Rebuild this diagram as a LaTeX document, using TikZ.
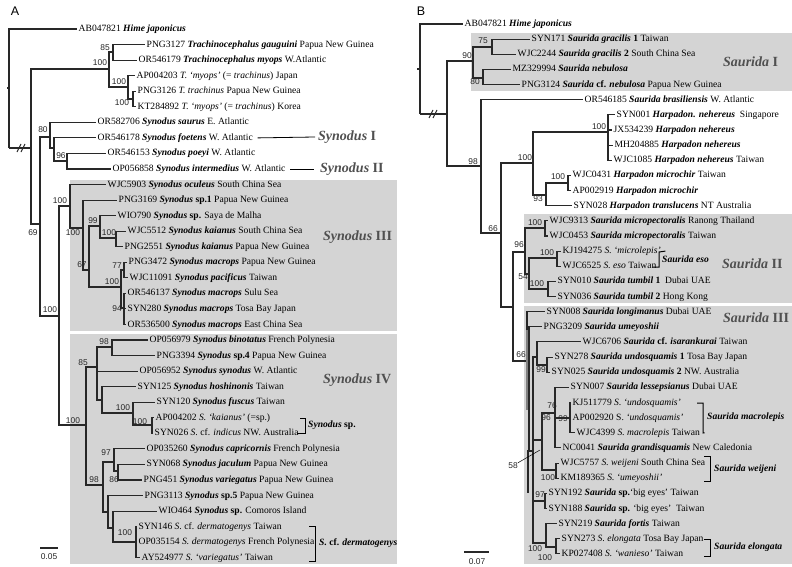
\documentclass[tikz,border=0pt]{standalone}
\usepackage{fontspec}
\setmainfont{Liberation Serif}
\setsansfont{Liberation Sans}
\definecolor{boxgray}{RGB}{212,212,212}
\definecolor{linegray}{RGB}{40,40,40}
\definecolor{cladegray}{RGB}{80,80,80}
\newcommand{\bi}[1]{\textbf{\textit{#1}}}
\tikzset{
  br/.style={draw=linegray, line width=1.1pt},
  thick bar/.style={draw=linegray, line width=2.6pt},
  lf/.style={anchor=west, inner sep=1.5pt, text height=7pt, text depth=2pt, font=\fontsize{9.6}{11}\selectfont},
  bs/.style={inner sep=0pt, font=\sffamily\fontsize{8.4}{10}\selectfont, text=black!85},
  cl/.style={anchor=west, inner sep=0pt, text=cladegray, font=\fontsize{14}{16}\selectfont},
  sp/.style={anchor=west, inner sep=0pt, font=\fontsize{9.6}{11}\selectfont},
  cladebox/.style={fill=boxgray, draw=none},
  brk/.style={draw=black, line width=1pt},
}

\begin{document}
\begin{tikzpicture}[x=1pt, y=-1pt]
\useasboundingbox (0,0) rectangle (792,567);

% shaded clades
\fill[cladebox] (70,180) rectangle (397,331);
\fill[cladebox] (70,334) rectangle (397,564);
\fill[cladebox] (471,33) rectangle (792,91);
\fill[cladebox] (524,214) rectangle (792,303);
\fill[cladebox] (524,306) rectangle (792,564);

\node[font=\sffamily\fontsize{12.5}{14}\selectfont] (pA) at (15,11) {A};
\node[font=\sffamily\fontsize{12.5}{14}\selectfont] (pB) at (421,11) {B};

%%%%%%%%%% panel A : Synodus
\node[lf] (a1) at (77,29.0) {AB047821 \bi{Hime japonicus}};
\node[lf] (a2) at (145,44.6) {PNG3127 \bi{Trachinocephalus gauguini} Papua New Guinea};
\node[lf] (a3) at (137,60.1) {OR546179 \bi{Trachinocephalus myops} W.Atlantic};
\node[lf] (a4) at (135,75.7) {AP004203 \textit{T. `myops'} (= \textit{trachinus}) Japan};
\node[lf] (a5) at (136,91.2) {PNG3126 \textit{T. trachinus} Papua New Guinea};
\node[lf] (a6) at (136,106.8) {KT284892 \textit{T. `myops'} (= \textit{trachinus}) Korea};
\node[lf] (a7) at (96,122.3) {OR582706 \bi{Synodus saurus} E. Atlantic};
\node[lf] (a8) at (96,137.9) {OR546178 \bi{Synodus foetens} W. Atlantic};
\node[lf] (a9) at (106,153.4) {OR546153 \bi{Synodus poeyi} W. Atlantic};
\node[lf] (a10) at (111,169.0) {OP056858 \bi{Synodus intermedius} W. Atlantic};
\node[lf] (a11) at (106,184.5) {WJC5903 \bi{Synodus oculeus} South China Sea};
\node[lf] (a12) at (117,200.1) {PNG3169 \bi{Synodus} \textbf{sp.1} Papua New Guinea};
\node[lf] (a13) at (116,215.6) {WIO790 \bi{Synodus} \textbf{sp.} Saya de Malha};
\node[lf] (a14) at (126,231.2) {WJC5512 \bi{Synodus kaianus} South China Sea};
\node[lf] (a15) at (123,246.7) {PNG2551 \bi{Synodus kaianus} Papua New Guinea};
\node[lf] (a16) at (127,262.3) {PNG3472 \bi{Synodus macrops} Papua New Guinea};
\node[lf] (a17) at (128,277.8) {WJC11091 \bi{Synodus pacificus} Taiwan};
\node[lf] (a18) at (126,293.4) {OR546137 \bi{Synodus macrops} Sulu Sea};
\node[lf] (a19) at (126,308.9) {SYN280 \bi{Synodus macrops} Tosa Bay Japan};
\node[lf] (a20) at (126,324.5) {OR536500 \bi{Synodus macrops} East China Sea};
\node[lf] (a21) at (148,340.0) {OP056979 \bi{Synodus binotatus} French Polynesia};
\node[lf] (a22) at (155,355.6) {PNG3394 \bi{Synodus} \textbf{sp.4} Papua New Guinea};
\node[lf] (a23) at (138,371.1) {OP056952 \bi{Synodus synodus} W. Atlantic};
\node[lf] (a24) at (136,386.7) {SYN125 \bi{Synodus hoshinonis} Taiwan};
\node[lf] (a25) at (155,402.2) {SYN120 \bi{Synodus fuscus} Taiwan};
\node[lf] (a26) at (154,417.8) {AP004202 \textit{S. `kaianus'} (=sp.)};
\node[lf] (a27) at (153,433.3) {SYN026 \textit{S.} cf. \textit{indicus} NW. Australia};
\node[lf] (a28) at (145,448.9) {OP035260 \bi{Synodus capricornis} French Polynesia};
\node[lf] (a29) at (145,464.4) {SYN068 \bi{Synodus jaculum} Papua New Guinea};
\node[lf] (a30) at (142,480.0) {PNG451 \bi{Synodus variegatus} Papua New Guinea};
\node[lf] (a31) at (143,495.5) {PNG3113 \bi{Synodus} \textbf{sp.5} Papua New Guinea};
\node[lf] (a32) at (157,511.1) {WIO464 \bi{Synodus} \textbf{sp.} Comoros Island};
\node[lf] (a33) at (137,526.6) {SYN146 \textit{S.} cf. \textit{dermatogenys} Taiwan};
\node[lf] (a34) at (137,542.2) {OP035154 \textit{S. dermatogenys} French Polynesia};
\node[lf] (a35) at (140,557.7) {AY524977 \textit{S. `variegatus'} Taiwan};

% internal nodes A
\coordinate (rA) at (9,148);
\coordinate (nA1) at (31,148);
\coordinate (nTr) at (109,69);
\coordinate (n85) at (113,52);
\coordinate (n100a) at (128,87);
\coordinate (n100b) at (133,99);
\coordinate (nSy) at (40,224);
\coordinate (n80) at (50,137);
\coordinate (nS1) at (54,148);
\coordinate (n96) at (67,161);
\coordinate (n100c) at (59,316);
\coordinate (nIII) at (70,206);
\coordinate (nB) at (83,228);
\coordinate (n67) at (89,270);
\coordinate (n99) at (100,226);
\coordinate (n100d) at (116,238);
\coordinate (nE) at (121,287);
\coordinate (nG) at (124,270);
\coordinate (nH) at (124,308);
\coordinate (nIV) at (86,425);
\coordinate (n85b) at (97,367);
\coordinate (n98a) at (112,347);
\coordinate (nZ) at (102,400);
\coordinate (n100g) at (133,413);
\coordinate (n100h) at (152,425);
\coordinate (n98b) at (103,485);
\coordinate (n97) at (114,462);
\coordinate (n86) at (118,471);
\coordinate (nX) at (108,512);
\coordinate (nY) at (113,528);
\coordinate (n100i) at (136,542);

\draw[br] (7,88) -- (9,88);
\draw[br] (rA) |- (a1.west);
\draw[br] (rA) -- (nA1);
\draw[br] (nA1) |- (nTr);
\draw[br] (nA1) |- (nSy);
\draw[br] (nTr) |- (n85);
\draw[br] (nTr) |- (n100a);
\draw[br] (n85) |- (a2.west);
\draw[br] (n85) |- (a3.west);
\draw[br] (n100a) |- (a4.west);
\draw[br] (n100a) |- (n100b);
\draw[br] (n100b) |- (a5.west);
\draw[br] (n100b) |- (a6.west);
\draw[br] (nSy) |- (n80);
\draw[br] (nSy) |- (n100c);
\draw[br] (n80) |- (a7.west);
\draw[br] (n80) |- (nS1);
\draw[br] (nS1) |- (a8.west);
\draw[br] (nS1) |- (n96);
\draw[br] (n96) |- (a9.west);
\draw[br] (n96) |- (a10.west);
\draw[br] (n100c) |- (nIII);
\draw[br] (n100c) |- (nIV);
\draw[br] (nIII) |- (a11.west);
\draw[br] (nIII) |- (nB);
\draw[br] (nB) |- (a12.west);
\draw[br] (nB) |- (n67);
\draw[br] (n67) |- (n99);
\draw[br] (n67) |- (nE);
\draw[br] (n99) |- (a13.west);
\draw[br] (n99) |- (n100d);
\draw[br] (n100d) |- (a14.west);
\draw[br] (n100d) |- (a15.west);
\draw[br] (nE) |- (nG);
\draw[br] (nE) |- (nH);
\draw[br] (nG) |- (a16.west);
\draw[br] (nG) |- (a17.west);
\draw[br] (nH) |- (a18.west);
\draw[br] (nH) |- (a19.west);
\draw[br] (nH) |- (a20.west);
\draw[thick bar] (124,300) -- (124,316);
\draw[br] (nIV) |- (n85b);
\draw[br] (nIV) |- (n98b);
\draw[br] (n85b) |- (n98a);
\draw[br] (n85b) |- (a23.west);
\draw[br] (n85b) |- (nZ);
\draw[br] (n98a) |- (a21.west);
\draw[br] (n98a) |- (a22.west);
\draw[br] (nZ) |- (a24.west);
\draw[br] (nZ) |- (n100g);
\draw[br] (n100g) |- (a25.west);
\draw[br] (n100g) |- (n100h);
\draw[br] (n100h) |- (a26.west);
\draw[br] (n100h) |- (a27.west);
\draw[thick bar] (152,420) -- (152,431);
\draw[br] (n98b) |- (n97);
\draw[br] (n98b) |- (nX);
\draw[br] (n97) |- (a28.west);
\draw[br] (n97) |- (n86);
\draw[br] (n86) |- (a29.west);
\draw[br] (n86) |- (a30.west);
\draw[br] (nX) |- (a31.west);
\draw[br] (nX) |- (nY);
\draw[br] (nY) |- (a32.west);
\draw[br] (nY) |- (n100i);
\draw[br] (n100i) |- (a33.west);
\draw[br] (n100i) |- (a34.west);
\draw[br] (n100i) |- (a35.west);
% long-branch break
\draw[br] (17,152) -- (21,144) (21,152) -- (25,144);

% support values A
\node[bs] (sa1) at (100,63) {100};
\node[bs] (sa2) at (105,48) {85};
\node[bs] (sa3) at (119,82) {100};
\node[bs] (sa4) at (122,103) {100};
\node[bs] (sa5) at (43,130) {80};
\node[bs] (sa6) at (61,156) {96};
\node[bs] (sa7) at (33,233) {69};
\node[bs] (sa8) at (50,310) {100};
\node[bs] (sa9) at (60,201) {100};
\node[bs] (sa10) at (73,233) {100};
\node[bs] (sa11) at (93,221) {99};
\node[bs] (sa12) at (109,233) {100};
\node[bs] (sa13) at (82,265) {67};
\node[bs] (sa14) at (112,282) {100};
\node[bs] (sa15) at (117,266) {77};
\node[bs] (sa16) at (117,309) {94};
\node[bs] (sa17) at (73,421) {100};
\node[bs] (sa18) at (83,363) {85};
\node[bs] (sa19) at (104,342) {98};
\node[bs] (sa20) at (123,408) {100};
\node[bs] (sa21) at (140,422) {100};
\node[bs] (sa22) at (94,480) {98};
\node[bs] (sa23) at (106,453) {97};
\node[bs] (sa24) at (114,480) {86};
\node[bs] (sa25) at (125,533) {100};

% clade names A
\node[cl] (cI) at (318,137) {\bi{Synodus} \textbf{I}};
\node[cl] (cII) at (320,169) {\bi{Synodus} \textbf{II}};
\node[cl] (cIII) at (323,237) {\bi{Synodus} \textbf{III}};
\node[cl] (cIV) at (323,380) {\bi{Synodus} \textbf{IV}};
\draw[line width=0.8pt] ([xshift=3pt]a8.east) -- ([xshift=-3pt]cI.west);
\draw[line width=0.8pt] ([xshift=3pt]a10.east) -- ([xshift=-6pt]cII.west);
\node[sp] (sA1) at (308,425) {\bi{Synodus} \textbf{sp.}};
\draw[brk] (300,418) -- (305,418) -- (305,433) -- (297,433);
\node[sp] (sA2) at (319,543) {\bi{S.} \textbf{cf.} \bi{dermatogenys}};
\draw[brk] (309,526) -- (315,526) -- (315,561) -- (309,561);

% scale A
\draw[br] (40,548) -- (58,548);
\node[bs] (scA) at (49,557) {0.05};

%%%%%%%%%% panel B : Saurida
\node[lf] (b1) at (463,24.0) {AB047821 \bi{Hime japonicus}};
\node[lf] (b2) at (530,39.1) {SYN171 \bi{Saurida gracilis} \textbf{1} Taiwan};
\node[lf] (b3) at (516,54.3) {WJC2244 \bi{Saurida gracilis} \textbf{2} South China Sea};
\node[lf] (b4) at (511,69.4) {MZ329994 \bi{Saurida nebulosa}};
\node[lf] (b5) at (520,84.6) {PNG3124 \bi{Saurida} \textbf{cf.} \bi{nebulosa} Papua New Guinea};
\node[lf] (b6) at (583,99.7) {OR546185 \bi{Saurida brasiliensis} W. Atlantic};
\node[lf] (b7) at (615,114.8) {SYN001 \bi{Harpadon. nehereus}\ \ Singapore};
\node[lf] (b8) at (612,130.0) {JX534239 \bi{Harpadon nehereus}};
\node[lf] (b9) at (613,145.1) {MH204885 \bi{Harpadon nehereus}};
\node[lf] (b10) at (612,160.3) {WJC1085 \bi{Harpadon nehereus} Taiwan};
\node[lf] (b11) at (571,175.4) {WJC0431 \bi{Harpadon microchir} Taiwan};
\node[lf] (b12) at (571,190.5) {AP002919 \bi{Harpadon microchir}};
\node[lf] (b13) at (572,205.7) {SYN028 \bi{Harpadon translucens} NT Australia};
\node[lf] (b14) at (548,220.8) {WJC9313 \bi{Saurida micropectoralis} Ranong Thailand};
\node[lf] (b15) at (548,236.0) {WJC0453 \bi{Saurida micropectoralis} Taiwan};
\node[lf] (b16) at (561,251.1) {KJ194275 \textit{S. `microlepis'}};
\node[lf] (b17) at (561,266.2) {WJC6525 \textit{S. eso} Taiwan};
\node[lf] (b18) at (556,281.4) {SYN010 \bi{Saurida tumbil} \textbf{1}\ \ Dubai UAE};
\node[lf] (b19) at (556,296.5) {SYN036 \bi{Saurida tumbil} \textbf{2} Hong Kong};
\node[lf] (b20) at (545,311.7) {SYN008 \bi{Saurida longimanus} Dubai UAE};
\node[lf] (b21) at (542,326.8) {PNG3209 \bi{Saurida umeyoshii}};
\node[lf] (b22) at (581,341.9) {WJC6706 \bi{Saurida} \textbf{cf.} \bi{isarankurai} Taiwan};
\node[lf] (b23) at (553,357.1) {SYN278 \bi{Saurida undosquamis} \textbf{1} Tosa Bay Japan};
\node[lf] (b24) at (550,372.2) {SYN025 \bi{Saurida undosquamis} \textbf{2} NW. Australia};
\node[lf] (b25) at (569,387.4) {SYN007 \bi{Saurida lessepsianus} Dubai UAE};
\node[lf] (b26) at (571,402.5) {KJ511779 \textit{S. `undosquamis'}};
\node[lf] (b27) at (571,417.6) {AP002920 S. \textit{`undosquamis'}};
\node[lf] (b28) at (575,432.8) {WJC4399 \textit{S. macrolepis} Taiwan};
\node[lf] (b29) at (561,447.9) {NC0041 \bi{Saurida grandisquamis} New Caledonia};
\node[lf] (b30) at (559,463.1) {WJC5757 \textit{S. weijeni} South China Sea};
\node[lf] (b31) at (559,478.2) {KM189365 \textit{S. `umeyoshii'}};
\node[lf] (b32) at (547,493.3) {SYN192 \bi{Saurida} \textbf{sp.}`big eyes' Taiwan};
\node[lf] (b33) at (547,508.5) {SYN188 \bi{Saurida} \textbf{sp.} `big eyes'\ \ Taiwan};
\node[lf] (b34) at (557,523.6) {SYN219 \bi{Saurida fortis} Taiwan};
\node[lf] (b35) at (560,538.8) {SYN273 \textit{S. elongata} Tosa Bay Japan};
\node[lf] (b36) at (560,553.9) {KP027408 \textit{S. `wanieso'} Taiwan};

% internal nodes B
\coordinate (rB) at (420,114);
\coordinate (nB1) at (447,114);
\coordinate (nSI) at (473,61);
\coordinate (n75) at (492,47);
\coordinate (n80b) at (483,78);
\coordinate (n98c) at (481,166);
\coordinate (n66a) at (501,233);
\coordinate (nH1) at (533,163);
\coordinate (n100H) at (608,132);
\coordinate (n93) at (546,195);
\coordinate (n100m) at (568,183);
\coordinate (n513) at (513,307);
\coordinate (n96a) at (525,252);
\coordinate (n100j) at (545,228);
\coordinate (n54) at (529,274);
\coordinate (n100k) at (557,258);
\coordinate (n100l) at (548,289);
\coordinate (nSIII) at (527,361);
\coordinate (n529) at (529,400);
\coordinate (n533) at (533,451);
\coordinate (n537) at (537,357);
\coordinate (n99c) at (547,365);
\coordinate (n96b) at (542,440);
\coordinate (n76) at (555,413);
\coordinate (n99d) at (570,418);
\coordinate (n100w) at (556,470);
\coordinate (n97b) at (545,501);
\coordinate (n100f) at (546,543);
\coordinate (n100e) at (556,547);

\draw[br] (417,69) -- (420,69);
\draw[br] (rB) |- (b1.west);
\draw[br] (rB) -- (nB1);
\draw[br] (429,118) -- (433,110) (433,118) -- (437,110);
\draw[br] (nB1) |- (nSI);
\draw[br] (nB1) |- (n98c);
\draw[br] (nSI) |- (n75);
\draw[br] (nSI) |- (n80b);
\draw[br] (n75) |- (b2.west);
\draw[br] (n75) |- (b3.west);
\draw[br] (n80b) |- (b4.west);
\draw[br] (n80b) |- (b5.west);
\draw[br] (n98c) |- (b6.west);
\draw[br] (n98c) |- (n66a);
\draw[br] (n66a) |- (nH1);
\draw[br] (n66a) |- (n513);
\draw[br] (nH1) |- (n100H);
\draw[br] (nH1) |- (n93);
\draw[br] (n100H) |- (b7.west);
\draw[br] (n100H) |- (b8.west);
\draw[br] (n100H) |- (b9.west);
\draw[br] (n100H) |- (b10.west);
\draw[thick bar] (608,122) -- (608,156);
\draw[br] (n93) |- (n100m);
\draw[br] (n93) |- (b13.west);
\draw[br] (n100m) |- (b11.west);
\draw[br] (n100m) |- (b12.west);
\draw[br] (n513) |- (n96a);
\draw[br] (n513) |- (nSIII);
\draw[br] (n96a) |- (n100j);
\draw[br] (n96a) |- (n54);
\draw[br] (n100j) |- (b14.west);
\draw[br] (n100j) |- (b15.west);
\draw[br] (n54) |- (n100k);
\draw[br] (n54) |- (n100l);
\draw[br] (n100k) |- (b16.west);
\draw[br] (n100k) |- (b17.west);
\draw[br] (n100l) |- (b18.west);
\draw[br] (n100l) |- (b19.west);
\draw[br] (nSIII) |- (b20.west);
\draw[br] (nSIII) |- (n529);
\draw[br] (n529) |- (b21.west);
\draw[br] (n529) |- (n533);
\draw[br] (n533) |- (n537);
\draw[br] (n533) |- (n96b);
\draw[br] (n533) |- (n97b);
\draw[br] (n533) |- (n100f);
\draw[br] (n537) |- (b22.west);
\draw[br] (n537) |- (n99c);
\draw[br] (n99c) |- (b23.west);
\draw[br] (n99c) |- (b24.west);
\draw[br] (n96b) |- (n76);
\draw[br] (n96b) |- (n100w);
\draw[br] (n76) |- (b25.west);
\draw[br] (n76) |- (n99d);
\draw[br] (n76) |- (b29.west);
\draw[br] (n99d) |- (b26.west);
\draw[br] (n99d) |- (b27.west);
\draw[br] (n99d) |- (b28.west);
\draw[thick bar] (570,408) -- (570,428);
\draw[br] (n100w) |- (b30.west);
\draw[br] (n100w) |- (b31.west);
\draw[br] (n97b) |- (b32.west);
\draw[br] (n97b) |- (b33.west);
\draw[br] (n100f) |- (b34.west);
\draw[br] (n100f) |- (n100e);
\draw[br] (n100e) |- (b35.west);
\draw[br] (n100e) |- (b36.west);
\draw[thick bar, draw=gray] (527,330) -- (527,410);
\draw[thick bar] (528,450) -- (528,493);

% support values B
\node[bs] (sb1) at (467,56) {90};
\node[bs] (sb2) at (483,41) {75};
\node[bs] (sb3) at (475,82) {80};
\node[bs] (sb4) at (473,162) {98};
\node[bs] (sb5) at (493,229) {66};
\node[bs] (sb6) at (525,158) {100};
\node[bs] (sb7) at (599,127) {100};
\node[bs] (sb8) at (558,177) {100};
\node[bs] (sb9) at (538,199) {93};
\node[bs] (sb10) at (519,245) {96};
\node[bs] (sb11) at (535,223) {100};
\node[bs] (sb12) at (523,277) {54};
\node[bs] (sb13) at (547,253) {100};
\node[bs] (sb14) at (537,284) {100};
\node[bs] (sb15) at (521,355) {66};
\node[bs] (sb16) at (541,370) {99};
\node[bs] (sb17) at (552,406) {76};
\node[bs] (sb18) at (563,419) {99};
\node[bs] (sb19) at (546,418) {96};
\node[bs] (sb20) at (513,466) {58};
\node[bs] (sb21) at (548,478) {100};
\node[bs] (sb22) at (540,495) {97};
\node[bs] (sb23) at (535,549) {100};
\node[bs] (sb24) at (545,558) {100};
\draw[line width=0.5pt] (sb20.north east) -- (540,450);

% clade names B
\node[cl] (cSI) at (723,62) {\bi{Saurida} \textbf{I}};
\node[cl] (cSII) at (722,264) {\bi{Saurida} \textbf{II}};
\node[cl] (cSIII) at (723,318) {\bi{Saurida} \textbf{III}};
\node[sp] (sB1) at (662,259) {\bi{Saurida eso}};
\draw[brk] ([xshift=3pt]b16.east) -- (659,252) -- (659,267) -- (653,267);
\node[sp] (sB2) at (707,417) {\bi{Saurida macrolepis}};
\draw[brk] (697,403) -- (703,403) -- (703,433) -- ([xshift=3pt]b28.east);
\node[sp] (sB3) at (714,469) {\bi{Saurida weijeni}};
\draw[brk] (704,456) -- (710,456) -- (710,481) -- (704,481);
\node[sp] (sB4) at (714,547) {\bi{Saurida elongata}};
\draw[brk] (704,539) -- (710,539) -- (710,556) -- (704,556);

% scale B
\draw[br] (464,552) -- (489,552);
\node[bs] (scB) at (477,562) {0.07};
\end{tikzpicture}
\end{document}
